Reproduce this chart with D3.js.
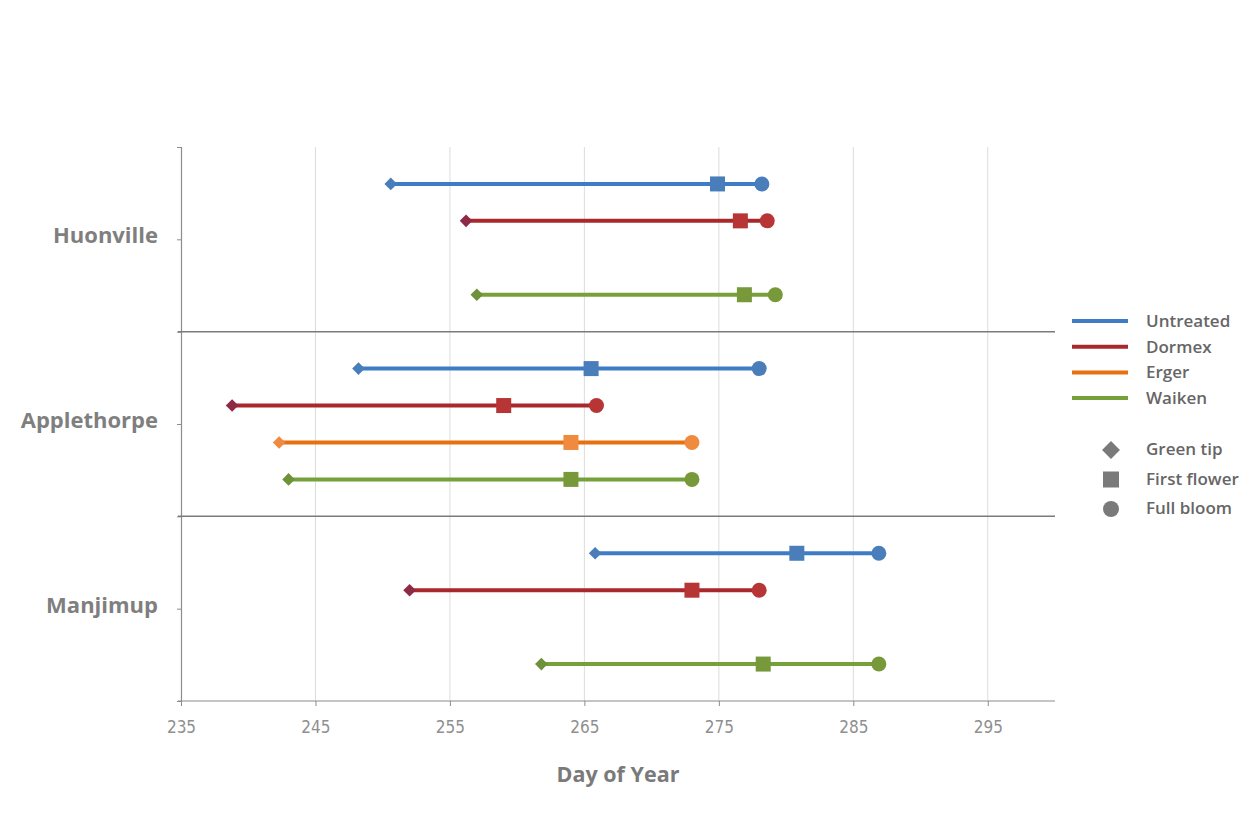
<!DOCTYPE html>
<html>
<head>
<meta charset="utf-8">
<script src="https://cdn.jsdelivr.net/npm/d3@7"></script>
<style>
  html, body { margin: 0; padding: 0; background: #fff; }
  svg { display: block; }
</style>
</head>
<body>
<div id="chart"></div>
<script>
// ---------- data ----------
const sites = ["Huonville", "Applethorpe", "Manjimup"];
const treatments = ["Untreated", "Dormex", "Erger", "Waiken"];
const stages = ["Green tip", "First flower", "Full bloom"];
const xTicks = [235, 245, 255, 265, 275, 285, 295];

// [green tip, first flower, full bloom] day-of-year, null = not measured
const huonvilleUntreated   = [250.6, 274.9, 278.2];
const huonvilleDormex      = [256.2, 276.6, 278.6];
const huonvilleErger       = null;
const huonvilleWaiken      = [257.0, 276.9, 279.2];

const applethorpeUntreated = [248.2, 265.5, 278.0];
const applethorpeDormex    = [238.8, 259.0, 265.9];
const applethorpeErger     = [242.3, 264.0, 273.0];
const applethorpeWaiken    = [243.0, 264.0, 273.0];

const manjimupUntreated    = [265.8, 280.8, 286.9];
const manjimupDormex       = [252.0, 273.0, 278.0];
const manjimupErger        = null;
const manjimupWaiken       = [261.8, 278.3, 286.9];

const siteData = [
  [huonvilleUntreated, huonvilleDormex, huonvilleErger, huonvilleWaiken],
  [applethorpeUntreated, applethorpeDormex, applethorpeErger, applethorpeWaiken],
  [manjimupUntreated, manjimupDormex, manjimupErger, manjimupWaiken]
];

// ---------- styles ----------
const lineColors   = ["#3f7cc6", "#a8282c", "#e8700f", "#76a03a"];
const markerColors = ["#4a7ebb", "#b83536", "#f08a3e", "#77993a"];
const diamondColors = ["#4a7ebb", "#8e2a45", "#f08a3e", "#6f9139"];

const W = 1252, H = 814;
const margin = { left: 181, right: 197, top: 147, bottom: 113 };

const svg = d3.select("#chart").append("svg")
  .attr("width", W).attr("height", H);

const x = d3.scaleLinear().domain([235, 300]).range([margin.left, W - margin.right]);
// each site occupies 5 row-units; rows 1..4 inside
const y = d3.scaleLinear().domain([0, 15]).range([margin.top, H - margin.bottom]);

// flatten rows
const rows = [];
siteData.forEach((arr, si) => {
  arr.forEach((vals, ti) => {
    if (vals) rows.push({ site: si, t: ti, vals, pos: si * 5 + ti + 1 });
  });
});

// gridlines
svg.append("g").selectAll("line")
  .data(xTicks.filter(d => d > 235))
  .join("line")
  .attr("x1", d => x(d)).attr("x2", d => x(d))
  .attr("y1", y(0)).attr("y2", y(15))
  .attr("stroke", "#dcdcdc").attr("stroke-width", 1);

// x axis
const xAxis = d3.axisBottom(x).tickValues(xTicks).tickSize(5).tickFormat(d3.format("d"));
const gx = svg.append("g").attr("transform", `translate(0,${y(15)})`).call(xAxis);
gx.select(".domain").attr("stroke", "#8c8c8c").attr("stroke-width", 1.2)
  .attr("d", `M${x(235) - 3},0H${x(300)}`);
gx.selectAll(".tick line").attr("stroke", "#8c8c8c");
gx.selectAll(".tick text")
  .attr("y", 20)
  .attr("fill", "#8f8f8f")
  .style("font-family", "'Liberation Sans Narrow', 'DejaVu Sans Condensed', sans-serif")
  .style("font-size", "17px");

// y axis (ticks at group bounds and centres)
const yAxis = d3.axisLeft(y).tickValues([0, 2.5, 5, 7.5, 10, 12.5, 15]).tickSize(4).tickFormat("");
const gy = svg.append("g").attr("transform", `translate(${x(235)},0)`).call(yAxis);
gy.select(".domain").attr("stroke", "#8c8c8c").attr("stroke-width", 1.2);
gy.selectAll(".tick line").attr("stroke", "#8c8c8c");

// separator lines between sites
svg.append("g").selectAll("line")
  .data([5, 10])
  .join("line")
  .attr("x1", x(235) - 3).attr("x2", x(300))
  .attr("y1", d => y(d)).attr("y2", d => y(d))
  .attr("stroke", "#7a7a7a").attr("stroke-width", 1.5);

// site labels
svg.append("g").selectAll("text")
  .data(sites)
  .join("text")
  .attr("x", 158)
  .attr("y", (d, i) => y(i * 5 + 2.5) + 4)
  .attr("text-anchor", "end")
  .attr("fill", "#7f7f7f")
  .style("font-family", "'Open Sans', sans-serif")
  .style("font-weight", "700")
  .style("font-size", "22px")
  .text(d => d);

// x title
svg.append("text")
  .attr("x", (x(235) + x(300)) / 2)
  .attr("y", 782)
  .attr("text-anchor", "middle")
  .attr("fill", "#7a7a7a")
  .style("font-family", "'Open Sans', sans-serif")
  .style("font-weight", "700")
  .style("font-size", "21.5px")
  .text("Day of Year");

// range lines
const g = svg.append("g");
g.selectAll("line.range")
  .data(rows)
  .join("line")
  .attr("class", "range")
  .attr("x1", d => x(d.vals[0])).attr("x2", d => x(d.vals[2]))
  .attr("y1", d => y(d.pos)).attr("y2", d => y(d.pos))
  .attr("stroke", d => lineColors[d.t])
  .attr("stroke-width", 4);

const diamond = d3.symbol().type(d3.symbolSquare).size(80);
// diamonds (green tip)
g.selectAll("path.gt")
  .data(rows)
  .join("path")
  .attr("class", "gt")
  .attr("d", diamond)
  .attr("transform", d => `translate(${x(d.vals[0])},${y(d.pos)}) rotate(45)`)
  .attr("fill", d => diamondColors[d.t]);

// squares (first flower)
g.selectAll("rect.ff")
  .data(rows)
  .join("rect")
  .attr("class", "ff")
  .attr("x", d => x(d.vals[1]) - 7.5)
  .attr("y", d => y(d.pos) - 7.5)
  .attr("width", 15).attr("height", 15)
  .attr("fill", d => markerColors[d.t]);

// circles (full bloom)
g.selectAll("circle.fb")
  .data(rows)
  .join("circle")
  .attr("class", "fb")
  .attr("cx", d => x(d.vals[2]))
  .attr("cy", d => y(d.pos))
  .attr("r", 7.5)
  .attr("fill", d => markerColors[d.t]);

// legend - treatments
const legFont = "'Open Sans', sans-serif";
const leg = svg.append("g");
treatments.forEach((t, i) => {
  const ly = 321 + i * 25.7;
  leg.append("line")
    .attr("x1", 1072).attr("x2", 1128).attr("y1", ly).attr("y2", ly)
    .attr("stroke", lineColors[i]).attr("stroke-width", 4);
  leg.append("text")
    .attr("x", 1146).attr("y", ly + 6)
    .attr("fill", "#666666")
    .style("font-family", legFont).style("font-weight", "600").style("font-size", "17px")
    .text(t);
});

// legend - stages
stages.forEach((s, i) => {
  const ly = 450 + i * 29.5;
  const mx = 1111;
  if (i === 0) {
    leg.append("path")
      .attr("d", d3.symbol().type(d3.symbolSquare).size(160)())
      .attr("transform", `translate(${mx},${ly}) rotate(45)`)
      .attr("fill", "#7a7a7a");
  } else if (i === 1) {
    leg.append("rect")
      .attr("x", mx - 8).attr("y", ly - 8).attr("width", 16).attr("height", 16)
      .attr("fill", "#7a7a7a");
  } else {
    leg.append("circle")
      .attr("cx", mx).attr("cy", ly).attr("r", 8)
      .attr("fill", "#7a7a7a");
  }
  leg.append("text")
    .attr("x", 1146).attr("y", ly + 5)
    .attr("fill", "#666666")
    .style("font-family", legFont).style("font-weight", "600").style("font-size", "17px")
    .text(s);
});
</script>
</body>
</html>
